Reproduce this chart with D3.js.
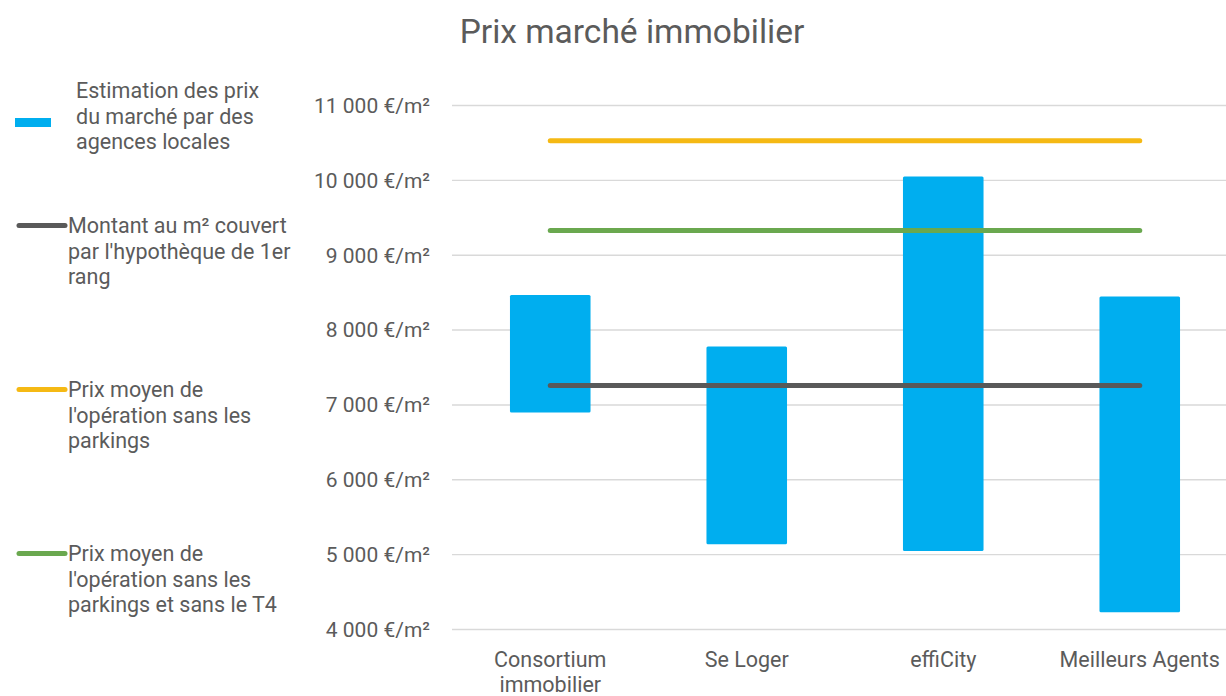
<!DOCTYPE html>
<meta charset="utf-8">
<style>
 body { margin: 0; background: #fff; }
 svg { font-family: Roboto, "Noto Sans", sans-serif; }
 .grid line { stroke: #d9d9d9; stroke-width: 1.4px; }
 .lbl { fill: #5b5b5b; }
</style>
<body>
<svg width="1226" height="696"></svg>
<script src="https://cdn.jsdelivr.net/npm/d3@7"></script>
<script>

 // categories and bar ranges (low / high estimate, €/m²)
 var categories = ["Consortium immobilier", "Se Loger", "effiCity", "Meilleurs Agents"];
 var barLow  = [6900, 5140, 5050, 4230];
 var barHigh = [8470, 7780, 10050, 8450];

 // horizontal reference series
 var hypotheque = [7260, 7260, 7260, 7260];
 var prixMoyen = [10530, 10530, 10530, 10530];
 var prixMoyenSansT4 = [9330, 9330, 9330, 9330];

 var yTicks = [4000, 5000, 6000, 7000, 8000, 9000, 10000, 11000];

 var legendLabels = [
     ["Estimation des prix", "du marché par des", "agences locales"],
     ["Montant au m² couvert", "par l'hypothèque de 1er", "rang"],
     ["Prix moyen de", "l'opération sans les", "parkings"],
     ["Prix moyen de", "l'opération sans les", "parkings et sans le T4"]
 ];

 var colors = {bar: "#00aeef", hyp: "#595959", moyen: "#f5b914", sansT4: "#6aa84f"};

 var fr = d3.formatLocale({decimal: ",", thousands: " ", grouping: [3], currency: ["", "€"]});
 var fmt = function(v) { return fr.format(",")(v) + " €/m²"; };

 var svg = d3.select("svg");

 svg.append("text")
    .attr("class", "lbl")
    .attr("x", 632).attr("y", 43)
    .attr("text-anchor", "middle")
    .style("font-size", "33.5px")
    .text("Prix marché immobilier");

 var x = d3.scalePoint()
	   .domain(categories)
	   .range([452, 1238])
	   .padding(0.5);
 var y = d3.scaleLinear()
	   .domain([4000, 11000])
	   .range([629.5, 105.5]);
 var barW = x.step() * 0.41;

 // gridlines + y labels
 var grid = svg.append("g").attr("class", "grid");
 grid.selectAll("line")
     .data(yTicks)
     .enter().append("line")
     .attr("x1", 452).attr("x2", 1238)
     .attr("y1", function(d) { return y(d); })
     .attr("y2", function(d) { return y(d); });
 svg.append("g").selectAll("text")
    .data(yTicks)
    .enter().append("text")
    .attr("class", "lbl")
    .attr("x", 430)
    .attr("y", function(d) { return y(d); })
    .attr("dy", "0.35em")
    .attr("text-anchor", "end")
    .style("font-size", "21px")
    .text(fmt);

 // bars
 svg.append("g").selectAll("rect")
    .data(categories)
    .enter().append("rect")
    .attr("x", function(d) { return x(d) - barW / 2; })
    .attr("width", barW)
    .attr("y", function(d, i) { return y(barHigh[i]); })
    .attr("height", function(d, i) { return y(barLow[i]) - y(barHigh[i]); })
    .attr("rx", 1.5)
    .style("fill", colors.bar);

 // lines
 var line = d3.line()
	      .x(function(d, i) { return x(categories[i]); })
	      .y(function(d) { return y(d); });
 [[hypotheque, colors.hyp], [prixMoyen, colors.moyen], [prixMoyenSansT4, colors.sansT4]].forEach(function(s) {
     svg.append("path")
	.datum(s[0])
	.attr("d", line)
	.style("fill", "none")
	.style("stroke", s[1])
	.style("stroke-width", 5)
	.style("stroke-linecap", "round");
 });

 // x labels
 var xl = svg.append("g").selectAll("text")
	     .data(categories)
	     .enter().append("text")
	     .attr("class", "lbl")
	     .attr("text-anchor", "middle")
	     .style("font-size", "21.5px")
	     .attr("y", 667);
 xl.each(function(d) {
     var parts = d.length > 16 ? d.split(" ") : [d];
     var t = d3.select(this);
     parts.forEach(function(p, k) {
	 t.append("tspan").attr("x", x(d)).attr("y", 667 + k * 25).text(p);
     });
 });

 // legend
 var legendY = [115, 225.5, 389.5, 553.5];
 var lg = svg.append("g");
 lg.append("rect")
   .attr("x", 15).attr("y", 118).attr("width", 36).attr("height", 9)
   .style("fill", colors.bar);
 [colors.hyp, colors.moyen, colors.sansT4].forEach(function(c, i) {
     lg.append("line")
       .attr("x1", 19).attr("x2", 65)
       .attr("y1", legendY[i + 1]).attr("y2", legendY[i + 1])
       .style("stroke", c).style("stroke-width", 5).style("stroke-linecap", "round");
 });
 legendLabels.forEach(function(lines, i) {
     var tx = i == 0 ? 76 : 68;
     var base = i == 0 ? 98 : legendY[i] + 7.5;
     var t = lg.append("text").attr("class", "lbl").style("font-size", "21.5px");
     lines.forEach(function(s, k) {
	 t.append("tspan").attr("x", tx).attr("y", base + k * 25.5).text(s);
     });
 });

</script>
</body>
